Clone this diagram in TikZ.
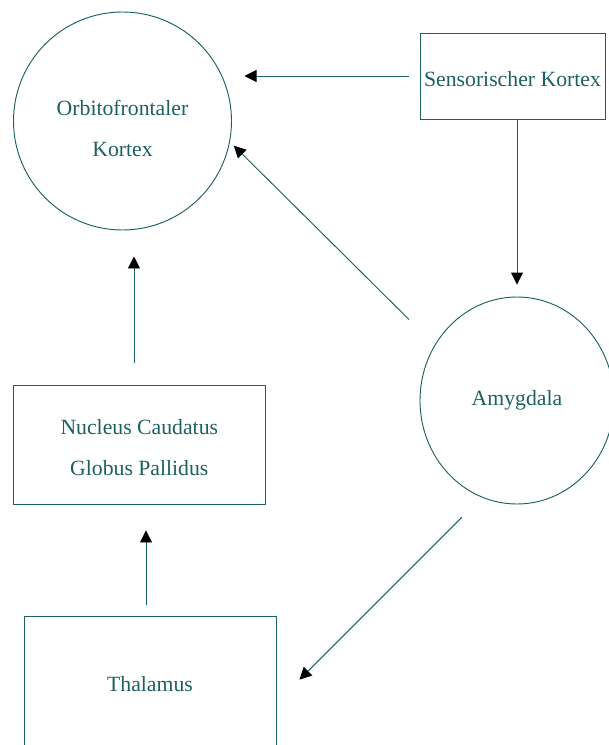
\documentclass[tikz,border=0pt]{standalone}
\usepackage{fontspec}
\setmainfont{Liberation Serif}
\usepackage{tikz}
\usetikzlibrary{shapes.geometric,arrows.meta}

\definecolor{penteal}{RGB}{28,96,96}

\begin{document}
\begin{tikzpicture}[x=0.75pt,y=-0.75pt,
    box/.style={draw=penteal,line width=0.7pt,rectangle,inner sep=0pt,align=center},
    ring/.style={draw=penteal,line width=0.7pt,circle,inner sep=0pt,align=center},
    oval/.style={draw=penteal,line width=0.7pt,ellipse,inner sep=0pt,align=center},
    link/.style={draw=penteal,line width=0.7pt,-{Triangle[length=9pt,width=9pt,black]}},
    every node/.style={text=penteal,font=\fontsize{16.3}{30.75}\selectfont}]
\useasboundingbox (0,0) rectangle (608,745);
% the five areas, top row first
\node[ring,minimum size=163.5pt,text height=53.5pt] (orbito) at (122.5,121) {Orbitofrontaler\\Kortex};
\node[box,minimum width=138.75pt,minimum height=64.5pt,text height=16pt] (sens) at (512.5,76) {Sensorischer Kortex};
\node[oval,minimum width=145.5pt,minimum height=155.25pt] (amyg) at (517,400.5) {Amygdala};
\node[box,minimum width=188.5pt,minimum height=89.25pt,text height=46pt] (nucl) at (139.3,444.5) {Nucleus Caudatus\\Globus Pallidus};
\node[box,minimum width=189pt,minimum height=102pt] (thal) at (150,684) {Thalamus};
% pathways
\draw[link,shorten <=8.25pt,shorten >=9.4pt] (sens.west) -- (sens.west -| orbito.east);
\draw[link,shorten >=9pt] (amyg.north |- sens.south) -- (amyg.north);
\draw[link,shorten <=27pt,shorten >=4pt] (amyg.146) -- (orbito.-11);
\draw[link,shorten <=16.5pt,shorten >=19.5pt] ([xshift=-4pt]nucl.north) -- ([xshift=-4pt]nucl.north |- orbito.south);
\draw[link,shorten <=8.25pt,shorten >=19.5pt] ([xshift=-3pt]thal.north) -- ([xshift=-3pt]thal.north |- nucl.south);
\draw[link,shorten <=21pt,shorten >=24.4pt] (amyg.250) -- ([yshift=-14pt]thal.east);
\end{tikzpicture}
\end{document}
